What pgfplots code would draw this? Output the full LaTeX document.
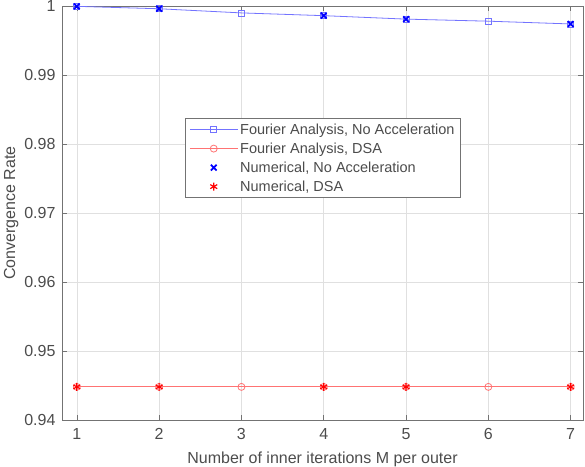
\documentclass[border=0pt]{standalone}
\usepackage{pgfplots}
\pgfplotsset{compat=1.18}
\usepackage{fontspec}
\setmainfont{Liberation Sans}
\definecolor{axgray}{rgb}{0.45,0.45,0.45}
\definecolor{txtgray}{rgb}{0.3,0.3,0.3}
\definecolor{lineblue}{rgb}{0.45,0.45,1}
\definecolor{linered}{rgb}{1,0.45,0.45}
\begin{document}
\begin{tikzpicture}
\useasboundingbox (0pt,0pt) rectangle (585pt,466pt);
\begin{axis}[
  at={(62pt,46pt)}, anchor=south west,
  scale only axis, width=521pt, height=414pt,
  xmin=0.82, xmax=7.15, ymin=0.94, ymax=1,
  xtick={1,2,3,4,5,6,7},
  ytick={0.94,0.95,0.96,0.97,0.98,0.99,1},
  yticklabels={0.94,0.95,0.96,0.97,0.98,0.99,1},
  /pgf/number format/assume math mode=true,
  tick align=inside,
  tick pos=both,
  major tick length=5pt,
  every tick/.style={axgray, line width=0.6pt},
  axis line style={axgray, line width=0.8pt},
  grid=major,
  major grid style={black!12, line width=0.5pt},
  ticklabel style={font=\fontsize{16}{19}\selectfont, text=txtgray},
  xticklabel style={yshift=-5pt},
  yticklabel style={xshift=-3pt},
  xlabel={Number of inner iterations M per outer},
  ylabel={Convergence Rate},
  label style={font=\fontsize{16}{19}\selectfont, text=txtgray},
  xlabel style={yshift=-5pt},
  ylabel style={yshift=-1pt},
  legend image code/.code={\draw[mark repeat=2,mark phase=2,#1] plot coordinates {(0pt,0pt) (24pt,0pt) (48pt,0pt)};},
  legend style={at={(0.236,0.729)}, anchor=north west,
    draw=axgray, line width=0.8pt, fill=white,
    font=\fontsize{14.5}{16}\selectfont, text=txtgray,
    row sep=3pt, inner xsep=4pt, inner ysep=3pt},
  legend cell align=left,
]
\addplot[lineblue, line width=0.8pt, mark=square, mark size=3pt, mark options={solid}] coordinates {
 (1,0.99995) (2,0.9996) (3,0.9990) (4,0.9986) (5,0.9981) (6,0.9978) (7,0.9974)};
\addlegendentry{Fourier Analysis, No Acceleration}
\addplot[linered, line width=0.8pt, mark=o, mark size=3.5pt] coordinates {
 (1,0.9448) (2,0.9448) (3,0.9448) (4,0.9448) (5,0.9448) (6,0.9448) (7,0.9448)};
\addlegendentry{Fourier Analysis, DSA}
\addplot[only marks, blue, mark=x, mark size=4pt, line width=1.8pt] coordinates {
 (1,0.99995) (2,0.9996) (4,0.9986) (5,0.9981) (7,0.9974)};
\addlegendentry{Numerical, No Acceleration}
\addplot[only marks, red, mark=asterisk, mark size=4pt, line width=1.2pt] coordinates {
 (1,0.9448) (2,0.9448) (4,0.9448) (5,0.9448) (7,0.9448)};
\addlegendentry{Numerical, DSA}
\end{axis}
\end{tikzpicture}
\end{document}
